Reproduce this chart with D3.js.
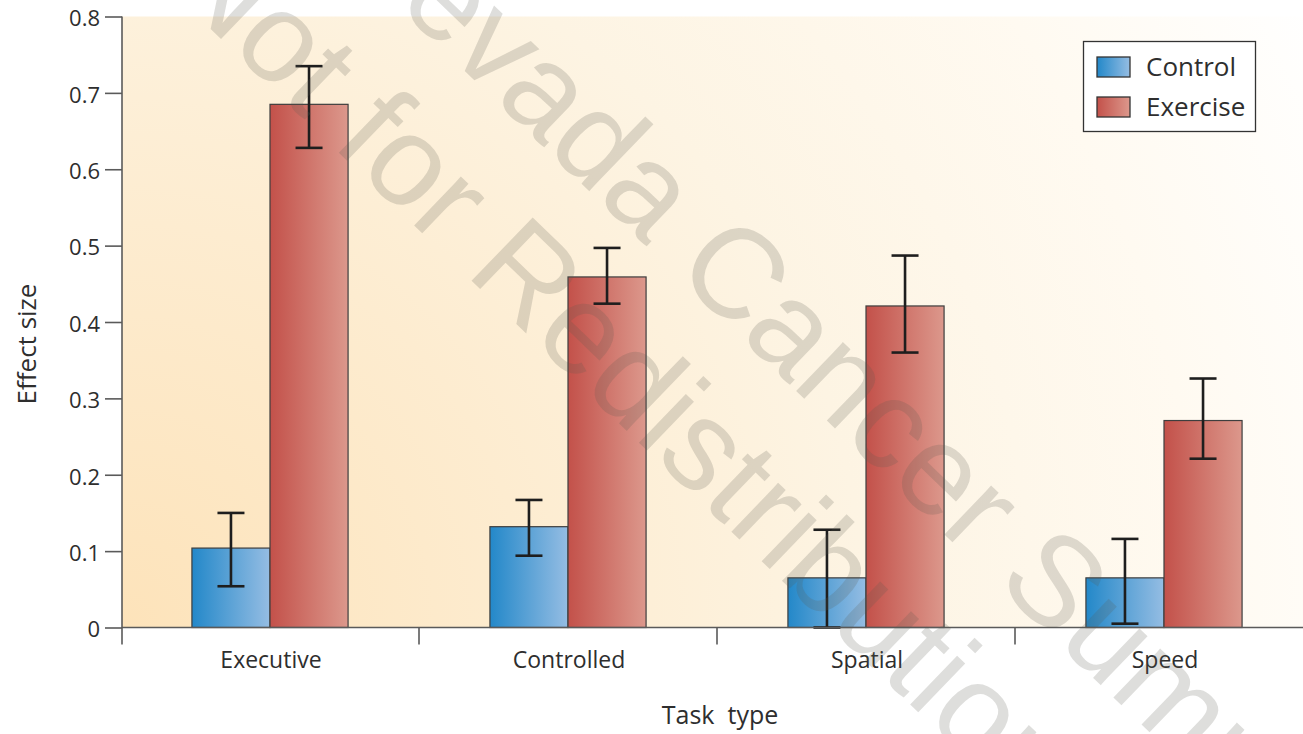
<!DOCTYPE html>
<html>
<head>
<meta charset="utf-8">
<script src="https://cdn.jsdelivr.net/npm/d3@7"></script>
<style>
  html, body { margin: 0; padding: 0; background: #ffffff; overflow: hidden; }
  svg { display: block; }
</style>
</head>
<body>
<svg id="chart" width="1303" height="734"></svg>
<script>
// ---- data ----
const categories = ["Executive", "Controlled", "Spatial", "Speed"];
const seriesNames = ["Control", "Exercise"];
const controlValues = [0.104, 0.132, 0.065, 0.065];
const controlLow    = [0.054, 0.094, 0.000, 0.005];
const controlHigh   = [0.150, 0.167, 0.128, 0.116];
const exerciseValues = [0.685, 0.459, 0.421, 0.271];
const exerciseLow    = [0.628, 0.424, 0.360, 0.221];
const exerciseHigh   = [0.735, 0.497, 0.487, 0.326];
const yTicks = [0, 0.1, 0.2, 0.3, 0.4, 0.5, 0.6, 0.7, 0.8];
const yTickLabels = ["0", "0.1", "0.2", "0.3", "0.4", "0.5", "0.6", "0.7", "0.8"];
const xTitle = "Task\u00a0 type";
const yTitle = "Effect size";
const watermarkLines = ["Not for Redistribution", "Nevada Cancer Summit"];

// ---- layout ----
const W = 1303, H = 734;
const plotLeft = 122, plotTop = 16.5, plotBottom = 627.5;
const svg = d3.select("#chart");
const FONT = "'Open Sans', 'Noto Sans', sans-serif";
const TEXT = "#2e2e2e";
const AXIS = "#5a5a5a";

const x = d3.scaleBand().domain(categories).range([121, 121 + 4 * 298]).paddingInner(0).paddingOuter(0);
const bw = x.bandwidth();
const xs = d3.scaleBand().domain(seriesNames).range([bw * 0.238, bw * 0.762]).padding(0);
const y = d3.scaleLinear().domain([0, 0.8]).range([plotBottom, plotTop]);

// ---- gradients ----
const defs = svg.append("defs");
const bg = defs.append("radialGradient").attr("id", "bgGrad")
  .attr("gradientUnits", "userSpaceOnUse")
  .attr("cx", plotLeft).attr("cy", plotBottom).attr("r", 1350);
[[0, "#fde3ba"], [0.3, "#fdecd0"], [0.55, "#fdf4e3"], [0.8, "#fffaf1"], [1, "#ffffff"]]
  .forEach(([o, c]) => bg.append("stop").attr("offset", o).attr("stop-color", c));

function hGrad(id, c0, c1) {
  const g = defs.append("linearGradient").attr("id", id)
    .attr("x1", 0).attr("y1", 0).attr("x2", 1).attr("y2", 0);
  g.append("stop").attr("offset", 0).attr("stop-color", c0);
  g.append("stop").attr("offset", 1).attr("stop-color", c1);
}
hGrad("gradControl", "#2388c9", "#95bde3");
hGrad("gradExercise", "#c3514a", "#dc988c");
const fills = { Control: "url(#gradControl)", Exercise: "url(#gradExercise)" };

// ---- plot background ----
svg.append("rect")
  .attr("x", plotLeft).attr("y", plotTop)
  .attr("width", W - plotLeft).attr("height", plotBottom - plotTop)
  .attr("fill", "url(#bgGrad)");

// ---- bars ----
const rows = categories.map((c, i) => ({
  cat: c,
  items: [
    { s: "Control", v: controlValues[i], lo: controlLow[i], hi: controlHigh[i] },
    { s: "Exercise", v: exerciseValues[i], lo: exerciseLow[i], hi: exerciseHigh[i] }
  ]
}));

const groups = svg.append("g").selectAll("g").data(rows).join("g")
  .attr("transform", d => `translate(${x(d.cat)},0)`);

groups.selectAll("rect").data(d => d.items).join("rect")
  .attr("x", d => xs(d.s))
  .attr("y", d => y(d.v))
  .attr("width", xs.bandwidth())
  .attr("height", d => y(0) - y(d.v))
  .attr("fill", d => fills[d.s])
  .attr("stroke", "#3e3e3e")
  .attr("stroke-width", 1.2);

// ---- error bars ----
const cap = 13.5;
const eb = groups.selectAll("g.err").data(d => d.items).join("g").attr("class", "err")
  .attr("stroke", "#1e1e1e").attr("stroke-width", 2.6).attr("fill", "none");
const cx = d => xs(d.s) + xs.bandwidth() / 2;
eb.append("line")
  .attr("x1", cx).attr("x2", cx)
  .attr("y1", d => y(d.hi)).attr("y2", d => y(d.lo));
eb.append("line")
  .attr("x1", d => cx(d) - cap).attr("x2", d => cx(d) + cap)
  .attr("y1", d => y(d.hi)).attr("y2", d => y(d.hi));
eb.append("line")
  .attr("x1", d => cx(d) - cap).attr("x2", d => cx(d) + cap)
  .attr("y1", d => y(d.lo)).attr("y2", d => y(d.lo));

// ---- y axis ----
const yAxis = svg.append("g").attr("transform", `translate(${plotLeft},0)`)
  .call(d3.axisLeft(y).tickValues(yTicks).tickFormat((d, i) => yTickLabels[i]).tickSize(17).tickPadding(5));
yAxis.select(".domain").remove();
yAxis.selectAll(".tick line").attr("stroke", AXIS).attr("stroke-width", 1.6);
yAxis.selectAll(".tick text")
  .attr("font-family", FONT).attr("font-size", 22).attr("fill", TEXT)
  .attr("dy", "0.42em");
svg.append("line").attr("x1", plotLeft).attr("x2", plotLeft).attr("y1", plotTop).attr("y2", plotBottom + 17)
  .attr("stroke", AXIS).attr("stroke-width", 1.6);

// ---- x axis ----
svg.append("line").attr("x1", plotLeft).attr("x2", W).attr("y1", plotBottom).attr("y2", plotBottom)
  .attr("stroke", AXIS).attr("stroke-width", 1.6);
svg.append("g").selectAll("line").data(categories.slice(1)).join("line")
  .attr("x1", d => x(d)).attr("x2", d => x(d))
  .attr("y1", plotBottom).attr("y2", plotBottom + 17)
  .attr("stroke", AXIS).attr("stroke-width", 1.6);
svg.append("g").selectAll("text").data(categories).join("text")
  .attr("x", d => x(d) + bw / 2 + 1)
  .attr("y", 668)
  .attr("text-anchor", "middle")
  .attr("font-family", FONT).attr("font-size", 23).attr("fill", TEXT)
  .text(d => d);

// ---- axis titles ----
svg.append("text")
  .attr("x", 720).attr("y", 724)
  .attr("text-anchor", "middle")
  .attr("font-family", FONT).attr("font-size", 25).attr("fill", TEXT)
  .style("white-space", "pre")
  .text(xTitle);
svg.append("text")
  .attr("transform", "translate(36,344) rotate(-90)")
  .attr("text-anchor", "middle")
  .attr("font-family", FONT).attr("font-size", 26).attr("fill", TEXT)
  .text(yTitle);

// ---- legend ----
const lg = svg.append("g");
lg.append("rect").attr("x", 1083.5).attr("y", 41.5).attr("width", 172).attr("height", 90)
  .attr("fill", "#ffffff").attr("stroke", "#333").attr("stroke-width", 1.3);
const li = lg.selectAll("g.item").data(seriesNames).join("g").attr("class", "item")
  .attr("transform", (d, i) => `translate(1097,${57 + i * 40})`);
li.append("rect").attr("width", 33).attr("height", 20)
  .attr("fill", d => fills[d]).attr("stroke", "#333").attr("stroke-width", 1.3);
li.append("text").attr("x", 49).attr("y", 18.5)
  .attr("font-family", FONT).attr("font-size", 26).attr("fill", TEXT)
  .text(d => d);

// ---- watermark ----
const wm = svg.append("g").attr("pointer-events", "none");
const wmStarts = [[162, -18], [329, -60]];
wm.selectAll("text").data(watermarkLines).join("text")
  .attr("transform", (d, i) => `translate(${wmStarts[i][0]},${wmStarts[i][1]}) rotate(44)`)
  .attr("font-family", "'Liberation Sans', Arial, sans-serif")
  .attr("font-size", 128)
  .attr("fill", "rgba(92,88,80,0.2)")
  .text(d => d);
</script>
</body>
</html>
